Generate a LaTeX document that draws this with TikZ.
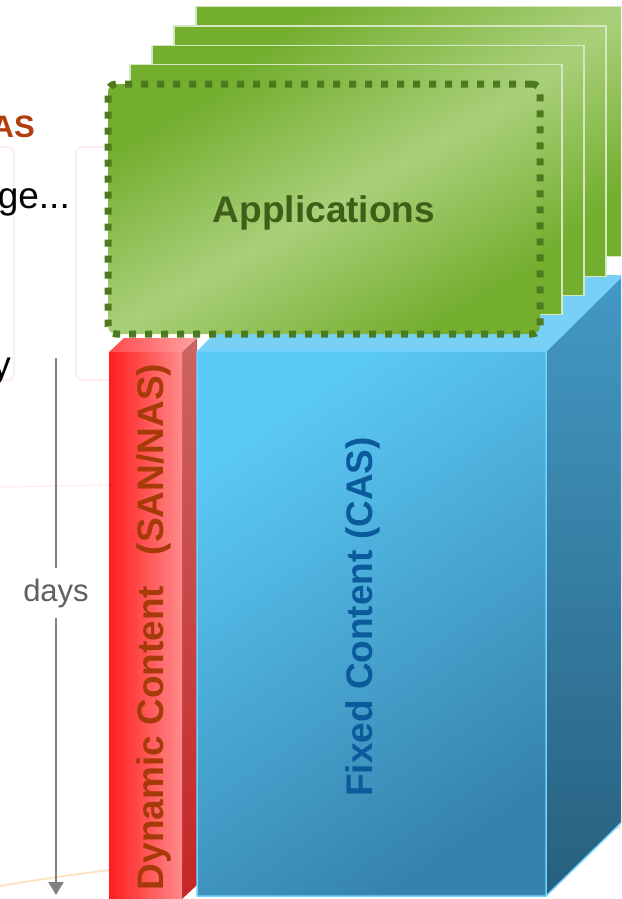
\documentclass[tikz,border=0pt]{standalone}
\usepackage{fontspec}
\setmainfont{Liberation Sans}
\usetikzlibrary{arrows.meta}
\definecolor{appdark}{HTML}{73AE2E}
\definecolor{applight}{HTML}{A9D07A}
\definecolor{appedge}{HTML}{4E7A1E}
\definecolor{apptext}{HTML}{3E5F18}
\definecolor{casfront}{HTML}{5BCAF7}
\definecolor{casfrontdk}{HTML}{3583AC}
\definecolor{castop}{HTML}{79D0F6}
\definecolor{casside}{HTML}{4399C5}
\definecolor{cassidedk}{HTML}{27607E}
\definecolor{casline}{HTML}{72D2FF}
\definecolor{castext}{HTML}{0B5A9C}
\definecolor{sanleft}{HTML}{FF1E1E}
\definecolor{sanright}{HTML}{FF8A8A}
\definecolor{sanside}{HTML}{CC6464}
\definecolor{sansidedk}{HTML}{C42626}
\definecolor{santext}{HTML}{A63A08}
\definecolor{titletext}{HTML}{B23E0C}
\definecolor{faint}{HTML}{FDF0EC}
\definecolor{timeline}{HTML}{808080}
\definecolor{daystext}{HTML}{5F5F5F}

\begin{document}
\begin{tikzpicture}[x=1pt,y=-1pt]
      \tikzstyle card=[shading=axis, top color=appdark, bottom color=appdark,
      middle color=applight, shading angle=30]
      \tikzstyle big=[font=\fontsize{37}{40}\selectfont\bfseries]
      \tikzstyle body=[font=\fontsize{37}{40}\selectfont, anchor=base east, inner sep=0pt]
      \useasboundingbox (0,0) rectangle (621,899);
      \clip (0,0) rectangle (621,899);
      % faint slide background
      \draw [faint, line width=2pt, rounded corners=6pt] (-200,147) rectangle (14,380);
      \draw [faint, line width=2pt, rounded corners=6pt] (76,147) rectangle (300,380);
      \draw [faint, line width=1.5pt] (0,487) -- (109,485);
      \draw [orange!22, line width=2pt] (0,886) .. controls (200,852) and (450,840) .. (640,826);
      \node [big, font=\fontsize{31}{34}\selectfont\bfseries, text=titletext, anchor=base east, inner sep=0pt] (title) at (35,137) {AS};
      \node [body] (sub) at (70,208) {ge...};
      \node [body] (cut) at (11,377) {y};
      % time axis
      \coordinate (daystop) at (56,358);
      \coordinate (daysend) at (56,895);
      \node [font=\fontsize{31}{34}\selectfont, text=daystext, minimum height=50pt, inner sep=0pt] (days) at (56,593) {days};
      \draw [timeline, line width=2.2pt] (daystop) -- (days);
      \draw [timeline, line width=2.2pt, -{Triangle[length=13pt,width=15pt]}] (days) -- (daysend);
      % dynamic content block
      \shade [top color=sanside, bottom color=sansidedk] (182,352) -- (197,338) -- (197,885) -- (182,899) -- cycle;
      \shade [left color=sanleft!80!white, right color=sanright!80!white] (109,352) -- (124,338) -- (197,338) -- (182,352) -- cycle;
      \shade [left color=sanleft, right color=sanright] (109,352) rectangle (182,900);
      \node [big, rotate=90, text=santext, anchor=base] (dyn) at (163,627) {Dynamic Content\ \ \ (SAN/NAS)};
      % fixed content block
      \shade [top color=casside, bottom color=cassidedk] (546,351) -- (623,275) -- (623,821) -- (546,896) -- cycle;
      \fill [castop] (197,351) -- (274,275) -- (623,275) -- (546,351) -- cycle;
      \shade [top color=casfront, bottom color=casfrontdk, shading angle=35] (197,351) rectangle (546,896);
      \draw [casline, line width=1.5pt, line join=round] (197,351) rectangle (546,896)
            (546,351) -- (623,275) (546,896) -- (623,821);
      \node [big, rotate=90, text=castext, anchor=base] (fixed) at (372,617) {Fixed Content (CAS)};
      % application stack
      \foreach \i in {4,...,1}
        \path [card, draw=white!70!appdark, line width=1.2pt] (108+22*\i,84-19.3*\i) rectangle +(432,250);
      \node [card, big, text=apptext, draw=appedge, line width=7pt, dash pattern=on 7pt off 9pt,
             rounded corners=8pt, minimum width=432pt, minimum height=250pt, text depth=0pt] (apps) at (324,209) {Applications};
    \end{tikzpicture}
\end{document}
